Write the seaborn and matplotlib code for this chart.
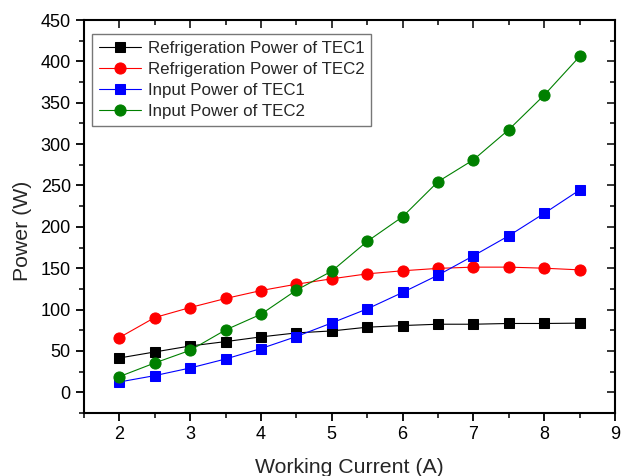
import numpy as np
import pandas as pd
import matplotlib
matplotlib.use("Agg")
import matplotlib.pyplot as plt
from matplotlib.ticker import MultipleLocator
import seaborn as sns

current = [2.0, 2.5, 3.0, 3.5, 4.0, 4.5, 5.0, 5.5, 6.0, 6.5, 7.0, 7.5, 8.0, 8.5]
refrig_tec1 = [41.5, 48.8, 56.0, 61.3, 67.0, 71.8, 74.2, 78.7, 80.7, 82.3, 82.3, 83.2, 83.2, 83.6]
refrig_tec2 = [66.2, 90.4, 102.5, 113.4, 123.0, 130.7, 137.2, 143.2, 146.9, 149.8, 151.3, 151.3, 150.0, 148.0]
input_tec1 = [12.5, 20.2, 29.4, 40.3, 52.9, 67.4, 83.9, 100.8, 120.7, 141.6, 165.0, 189.2, 216.3, 244.5]
input_tec2 = [19.0, 35.5, 50.8, 75.4, 94.4, 123.5, 146.5, 182.4, 212.2, 254.6, 281.0, 317.5, 359.2, 405.9]

series_names = ["Refrigeration Power of TEC1", "Refrigeration Power of TEC2",
                "Input Power of TEC1", "Input Power of TEC2"]
series_values = [refrig_tec1, refrig_tec2, input_tec1, input_tec2]
series_colors = ["black", "red", "blue", "green"]
series_markers = ["s", "o", "s", "o"]

sns.set_style("ticks")
plt.rcParams["font.family"] = ["Liberation Sans", "DejaVu Sans"]

fig = plt.figure(figsize=(6.21, 4.76), dpi=100)
ax = fig.add_axes([84 / 621, 1 - 413 / 476, (615 - 84) / 621, (413 - 20) / 476])

for name, vals, col, mk in zip(series_names, series_values, series_colors, series_markers):
    df = pd.DataFrame({"current": current, "power": vals})
    sns.lineplot(data=df, x="current", y="power", ax=ax, color=col, marker=mk,
                 markersize=8 if mk == "o" else 7, markeredgecolor=col,
                 linewidth=0.8, label=name)

ax.set_xlim(1.5, 9)
ax.set_ylim(-25, 450)
ax.xaxis.set_major_locator(MultipleLocator(1))
ax.xaxis.set_minor_locator(MultipleLocator(0.5))
ax.yaxis.set_major_locator(MultipleLocator(50))
ax.yaxis.set_minor_locator(MultipleLocator(25))
ax.set_xticks([2, 3, 4, 5, 6, 7, 8, 9])

for s in ax.spines.values():
    s.set_linewidth(1.5)
    s.set_color("black")

ax.tick_params(axis="both", which="major", direction="out", length=6, width=1.3,
               labelsize=13, colors="black")
ax.tick_params(axis="both", which="minor", direction="out", length=3.5, width=1.3)

# mirrored inward ticks on the top and right edges
top = ax.secondary_xaxis("top")
top.set_xticks([2, 3, 4, 5, 6, 7, 8, 9])
top.xaxis.set_minor_locator(MultipleLocator(0.5))
top.tick_params(which="major", direction="in", length=6, width=1.3, labeltop=False)
top.tick_params(which="minor", direction="in", length=3.5, width=1.3)
right = ax.secondary_yaxis("right")
right.yaxis.set_major_locator(MultipleLocator(50))
right.yaxis.set_minor_locator(MultipleLocator(25))
right.tick_params(which="major", direction="in", length=6, width=1.3, labelright=False)
right.tick_params(which="minor", direction="in", length=3.5, width=1.3)
for sec in (top, right):
    for s in sec.spines.values():
        s.set_visible(False)

ax.set_xlabel("Working Current (A)", fontsize=15.3, labelpad=11)
ax.set_ylabel("Power (W)", fontsize=15.3)
ax.yaxis.set_label_coords(-0.098, 0.463)

leg = ax.legend(loc="upper left", bbox_to_anchor=(0.015, 0.964), fontsize=12.2,
                frameon=True, fancybox=False, edgecolor="#555555",
                handlelength=2.5, handletextpad=0.4, borderpad=0.4,
                labelspacing=0.36, borderaxespad=0)
leg.get_frame().set_linewidth(1.0)

fig.savefig("out.png", dpi=100)
